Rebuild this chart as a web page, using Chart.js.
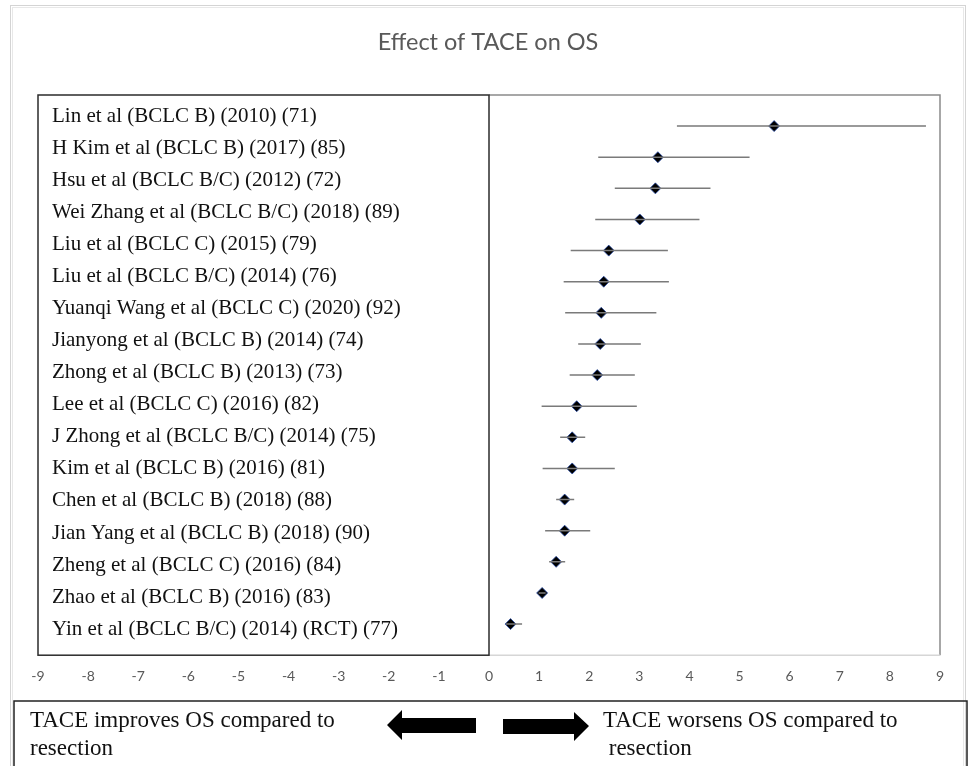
<!DOCTYPE html>
<html>
<head>
<meta charset="utf-8">
<script src="https://cdn.jsdelivr.net/npm/chart.js@4"></script>
<style>
  body { margin: 0; background: #fff; }
  #wrap { width: 968px; height: 766px; }
</style>
</head>
<body>
<div id="wrap"><canvas id="forest" width="968" height="766"></canvas></div>
<script>
const studies = [
    'Lin et al (BCLC B) (2010) (71)',
    'H Kim et al (BCLC B) (2017) (85)',
    'Hsu et al (BCLC B/C) (2012) (72)',
    'Wei Zhang et al (BCLC B/C) (2018) (89)',
    'Liu et al (BCLC C) (2015) (79)',
    'Liu et al (BCLC B/C) (2014) (76)',
    'Yuanqi Wang et al (BCLC C) (2020) (92)',
    'Jianyong et al (BCLC B) (2014) (74)',
    'Zhong et al (BCLC B) (2013) (73)',
    'Lee et al (BCLC C) (2016) (82)',
    'J Zhong et al (BCLC B/C) (2014) (75)',
    'Kim et al (BCLC B) (2016) (81)',
    'Chen et al (BCLC B) (2018) (88)',
    'Jian Yang et al (BCLC B) (2018) (90)',
    'Zheng et al (BCLC C) (2016) (84)',
    'Zhao et al (BCLC B) (2016) (83)',
    'Yin et al (BCLC B/C) (2014) (RCT) (77)'
];
const estimate = [5.69, 3.37, 3.32, 3.01, 2.39, 2.29, 2.24, 2.22, 2.16, 1.75, 1.66, 1.66, 1.51, 1.51, 1.34, 1.06, 0.43];
const lower    = [3.75, 2.18, 2.51, 2.12, 1.63, 1.49, 1.52, 1.78, 1.61, 1.05, 1.42, 1.07, 1.34, 1.12, 1.20, 0.99, 0.34];
const upper    = [8.72, 5.20, 4.42, 4.20, 3.57, 3.59, 3.34, 3.03, 2.91, 2.95, 1.92, 2.51, 1.70, 2.02, 1.52, 1.13, 0.66];
const xTicks = [-9, -8, -7, -6, -5, -4, -3, -2, -1, 0, 1, 2, 3, 4, 5, 6, 7, 8, 9];
const titleText = 'Effect of TACE on OS';
const leftNote = ['TACE improves OS compared to', 'resection'];
const rightNote = ['TACE worsens OS compared to', ' resection'];

// CI whiskers as one line with gaps between studies
const ciLines = [];
estimate.forEach((v, i) => {
    ciLines.push({ x: lower[i], y: i }, { x: upper[i], y: i }, { x: null, y: null });
});

const decor = {
    id: 'decor',
    beforeDraw(chart) {
        const ctx = chart.ctx;
        ctx.save();
        // outer frame
        ctx.strokeStyle = '#d4d4d4';
        ctx.lineWidth = 1;
        ctx.strokeRect(10.5, 5.5, 955, 800);
        ctx.strokeStyle = '#e8e8e8';
        ctx.strokeRect(12.5, 7.5, 951, 800);
        // title
        ctx.fillStyle = '#595959';
        ctx.font = '23.5px Lato, "Open Sans", sans-serif';
        ctx.textAlign = 'center';
        ctx.textBaseline = 'middle';
        ctx.fillText(titleText, 488, 42);
        ctx.restore();
    },
    afterDraw(chart) {
        const ctx = chart.ctx;
        const a = chart.chartArea;
        const x0 = chart.scales.x.getPixelForValue(0);
        ctx.save();
        // plot area frame
        ctx.lineWidth = 1.5;
        ctx.strokeStyle = '#8a8a8a';
        ctx.beginPath();
        ctx.moveTo(x0, a.top); ctx.lineTo(a.right, a.top); ctx.lineTo(a.right, a.bottom);
        ctx.stroke();
        ctx.strokeStyle = '#d6d6d6';
        ctx.beginPath();
        ctx.moveTo(x0, a.bottom); ctx.lineTo(a.right, a.bottom);
        ctx.stroke();
        // label box
        ctx.strokeStyle = '#2b2b2b';
        ctx.strokeRect(a.left, a.top, x0 - a.left, a.bottom - a.top);

        // bottom note box
        ctx.lineWidth = 1.5;
        ctx.strokeStyle = '#222';
        ctx.strokeRect(14, 701, 953, 80);
        ctx.fillStyle = '#111';
        ctx.font = '23px "Liberation Serif", "Times New Roman", serif';
        ctx.textBaseline = 'middle';
        ctx.textAlign = 'left';
        ctx.fillText(leftNote[0], 30, 721);
        ctx.fillText(leftNote[1], 30, 749);
        ctx.fillText(rightNote[0], 603, 721);
        ctx.fillText(rightNote[1], 603, 749);

        // arrows
        ctx.fillStyle = '#000';
        ctx.beginPath();
        ctx.moveTo(387, 725); ctx.lineTo(402, 710); ctx.lineTo(402, 718); ctx.lineTo(476, 718);
        ctx.lineTo(476, 733); ctx.lineTo(402, 733); ctx.lineTo(402, 740); ctx.closePath();
        ctx.fill();
        ctx.beginPath();
        ctx.moveTo(589, 726); ctx.lineTo(574, 712); ctx.lineTo(574, 719); ctx.lineTo(503, 719);
        ctx.lineTo(503, 734); ctx.lineTo(574, 734); ctx.lineTo(574, 741); ctx.closePath();
        ctx.fill();
        ctx.restore();
    }
};

new Chart(document.getElementById('forest'), {
    type: 'scatter',
    data: {
        datasets: [
            {
                label: 'CI',
                data: ciLines,
                showLine: true,
                spanGaps: false,
                borderColor: '#7a7a7a',
                borderWidth: 1.5,
                pointRadius: 0,
                yAxisID: 'y'
            },
            {
                label: 'Estimate',
                data: estimate.map((v, i) => ({ x: v, y: i })),
                pointStyle: 'rectRot',
                pointRadius: 5.5,
                backgroundColor: '#000',
                borderColor: '#2c4fa8',
                borderWidth: 0.8,
                yAxisID: 'y'
            }
        ]
    },
    options: {
        responsive: false,
        animation: false,
        events: [],
        layout: { padding: { top: 95, left: 10, right: 28, bottom: 68 } },
        scales: {
            x: {
                type: 'linear',
                min: -9,
                max: 9,
                afterBuildTicks: s => { s.ticks = xTicks.map(v => ({ value: v })); },
                grid: { display: false, drawTicks: false },
                border: { display: false },
                ticks: {
                    padding: 13,
                    color: '#595959',
                    font: { family: 'Lato, "Open Sans", sans-serif', size: 14 }
                }
            },
            y: {
                type: 'linear',
                display: false,
                reverse: true,
                min: -1,
                max: 17
            },
            yl: {
                type: 'linear',
                position: 'left',
                reverse: true,
                min: -0.655,
                max: 16.81,
                afterBuildTicks: s => { s.ticks = studies.map((n, i) => ({ value: i })); },
                grid: { display: false, drawTicks: false },
                border: { display: false },
                ticks: {
                    mirror: true,
                    padding: 14,
                    color: '#111',
                    font: { family: '"Liberation Serif", "Times New Roman", serif', size: 21 },
                    callback: v => studies[v]
                }
            }
        },
        plugins: {
            legend: { display: false },
            tooltip: { enabled: false },
            title: { display: false }
        }
    },
    plugins: [decor]
});
</script>
</body>
</html>
